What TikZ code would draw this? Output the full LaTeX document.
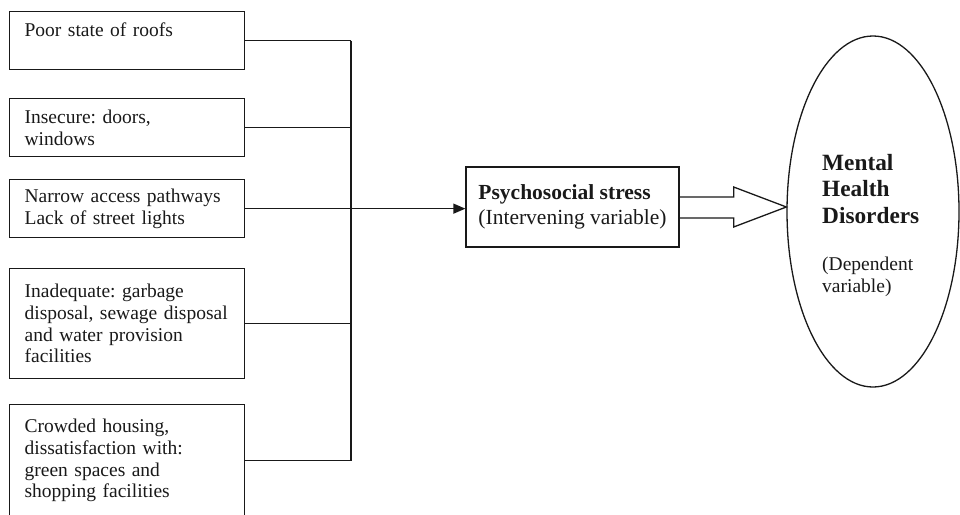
\documentclass[tikz,border=0pt]{standalone}
\usepackage{fontspec}
\setmainfont{Liberation Serif}
\usepackage{tikz}
\usetikzlibrary{positioning, shapes, arrows.meta, calc}
\usetikzlibrary{shapes.geometric}
\frenchspacing

\tikzset{
    link/.style={line width=1.3pt, black!90},
    factor/.style={draw, line width=1.3pt, black!90, text=black!90, anchor=north west,
        text width=205pt, inner xsep=15pt, inner ysep=0pt, align=left,
        font=\fontsize{19.5}{21.7}\selectfont},
    plain/.style={inner sep=0pt, anchor=north west, align=left, text=black!90}
}

\begin{document}
\begin{tikzpicture}[x=1pt, y=-1pt]
    \useasboundingbox (0,0) rectangle (960,514);

    % independent variables
    \node[factor, minimum height=58pt] (roofs) at (9,11) {Poor state of roofs\\ \mbox{}};
    \node[factor, minimum height=58pt] (doors) at (9,98) {Insecure: doors,\\windows};
    \node[factor, minimum height=58pt] (paths) at (9,179) {Narrow access pathways\\Lack of street lights};
    \node[factor, minimum height=110pt] (waste) at (9,268) {Inadequate: garbage\\disposal, sewage disposal\\and water provision\\facilities};
    \node[factor, minimum height=112pt] (crowd) at (9,404) {Crowded housing,\\dissatisfaction with:\\green spaces and\\shopping facilities};

    % intervening and dependent variables
    \node[draw, line width=1.3pt, black!90, text=black!90, minimum width=213pt, minimum height=80pt,
        align=left, font=\fontsize{21.5}{25}\selectfont] (stress) at (572.5,207)
        {\textbf{Psychosocial stress}\\(Intervening variable)};
    \node[draw, ellipse, line width=1.3pt, black!90, inner sep=0pt,
        minimum width=172pt, minimum height=351pt] (mhd) at (873,211.5) {};
    \node[plain, font=\fontsize{23.3}{26.5}\selectfont\bfseries] (mhdname) at (822,154) {Mental\\Health\\Disorders};
    \node[plain, below=33pt of mhdname.south west, anchor=north west,
        font=\fontsize{19.5}{22}\selectfont] (mhdnote) {(Dependent\\variable)};

    % connectors
    \coordinate (bus) at (351,0);
    \foreach \f in {roofs, doors, paths, waste, crowd}
        \draw[link] (\f.east) -- (bus |- \f.east);
    \draw[link] (bus |- roofs.east) -- (bus |- crowd.east);
    \draw[link, -{Triangle[length=12pt, width=10pt]}] (bus |- paths.east) -- (stress.west |- paths.east);

    % block arrow
    \draw[link, line join=miter] ($(stress.east)+(0,-10)$) -- ++(54,0) -- ++(0,-10)
        -- (mhd.west |- stress.east) -- ($(stress.east)+(54,20)$) -- ++(0,-9)
        -- ($(stress.east)+(0,11)$);
\end{tikzpicture}
\end{document}
